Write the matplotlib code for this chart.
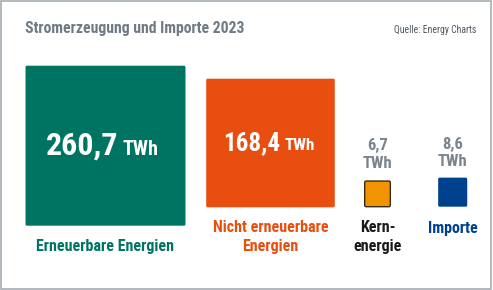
import numpy as np
import matplotlib.pyplot as plt
from matplotlib.patches import Rectangle, FancyBboxPatch

# data
categories = ['Erneuerbare Energien', 'Nicht erneuerbare\nEnergien', 'Kern-\nenergie', 'Importe']
values = [260.7, 168.4, 6.7, 8.6]
value_labels = ['260,7', '168,4', '6,7', '8,6']
unit = 'TWh'

# styles / layout (pixel coords)
colors = ['#007463', '#e84e0f', '#f29400', '#00418d']
label_colors = ['#007463', '#e84e0f', '#1a1a1a', '#00418d']
edge_colors = ['none', 'none', '#3a2a10', 'none']
centers_x = [105.5, 270.5, 377.5, 452.7]
bottoms_y = [225.7, 207.3, 206.7, 206.7]
max_side = 160.0

W, H = 493, 290
plt.rcParams['font.family'] = ['Roboto Condensed', 'DejaVu Sans']
fig = plt.figure(figsize=(W / 100, H / 100), dpi=100)
ax = fig.add_axes([0, 0, 1, 1])
ax.set_xlim(0, W)
ax.set_ylim(H, 0)
ax.axis('off')

# frame
ax.add_patch(Rectangle((0.5, 0.5), W - 2.5, H - 1.5, fill=False, ec='#a3abb3', lw=1.2))

gray = '#6f7a85'
ax.text(25, 32.5, 'Stromerzeugung und Importe 2023', fontsize=11.3, fontweight='bold',
        color=gray, ha='left', va='baseline')
ax.text(476, 32.7, 'Quelle: Energy Charts', fontsize=7, color='#4f5861',
        ha='right', va='baseline')

for i, v in enumerate(values):
    side = np.sqrt(v / max(values)) * max_side
    x0 = centers_x[i] - side / 2
    y0 = bottoms_y[i] - side
    ax.add_patch(FancyBboxPatch((x0, y0), side, side,
                                boxstyle='round,pad=0,rounding_size=1.5',
                                fc=colors[i], ec=edge_colors[i], lw=1.0))

# value labels inside big squares
big = [(0, 118, 155, 23, 14.5), (1, 280.5, 150, 18, 12.3)]
for i, xs, yb, fs_num, fs_unit in big:
    ax.text(xs, yb, value_labels[i], fontsize=fs_num, fontweight='bold', color='white',
            ha='right', va='baseline')
    ax.text(xs + 4.5, yb, unit, fontsize=fs_unit, fontweight='bold', color='white',
            ha='left', va='baseline')

# value labels above small squares
for i, yb in [(2, 150), (3, 148.5)]:
    ax.text(centers_x[i], yb, value_labels[i], fontsize=12, fontweight='bold', color='#7a848e',
            ha='center', va='baseline')
    ax.text(centers_x[i], yb + 18, unit, fontsize=12, fontweight='bold', color='#7a848e',
            ha='center', va='baseline')

# category labels, one line at a time
first_base = [251, 232.5, 232.5, 232.5]
for i, lab in enumerate(categories):
    for k, line in enumerate(lab.split('\n')):
        ax.text(centers_x[i], first_base[i] + k * 18.5, line, fontsize=11.5, fontweight='bold',
                color=label_colors[i], ha='center', va='baseline')

fig.savefig('out.png', dpi=100)
